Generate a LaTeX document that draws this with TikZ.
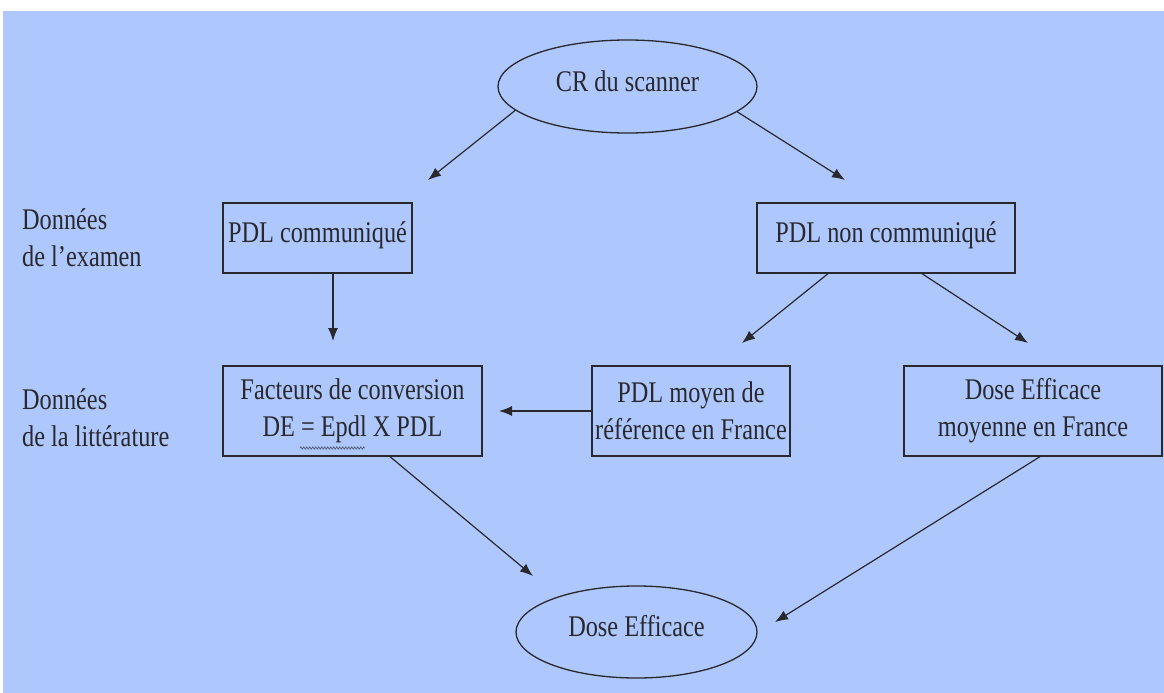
\documentclass[tikz,border=0pt]{standalone}
\usepackage{fontspec}
\setmainfont[FakeStretch=0.81]{Liberation Serif}
\usetikzlibrary{arrows.meta,shapes.geometric,decorations.pathmorphing}
\definecolor{bg}{RGB}{174,200,254}
\definecolor{ink}{RGB}{40,40,45}
\tikzset{
  txt/.style={font=\fontsize{30}{37}\selectfont, text=ink},
  oneline/.style={text height=21pt, text depth=12pt},
  boxnode/.style={draw=ink, line width=1.3pt, txt, align=center, inner sep=0pt},
  ellnode/.style={draw=ink, line width=1.3pt, ellipse, txt, oneline, inner sep=0pt},
  arr/.style={draw=ink, line width=1.2pt, -{Latex[length=13pt,width=10pt]}},
  side/.style={txt, align=left, anchor=north west, inner sep=0pt}
}
\begin{document}
\begin{tikzpicture}[x=1pt,y=-1pt]
\useasboundingbox (0,0) rectangle (1164,693);
\fill[bg] (3,11) rectangle (1164,693);

\node[ellnode, minimum width=259pt, minimum height=93pt] (cr) at (627.5,86.5) {CR du scanner};
\node[boxnode, oneline, minimum width=189pt, minimum height=70pt] (pc) at (317.5,238) {PDL communiqué};
\node[boxnode, oneline, minimum width=258pt, minimum height=70pt] (pnc) at (886,238) {PDL non communiqué};
\node[boxnode, minimum width=259pt, minimum height=90pt] (fc) at (352.5,411) {Facteurs de conversion\\DE = Epdl X PDL};
\node[boxnode, minimum width=198pt, minimum height=90pt] (pm) at (691,411) {PDL moyen de\\référence en France};
\node[boxnode, minimum width=258pt, minimum height=90pt] (dm) at (1033,411) {Dose Efficace\\moyenne en France};
\node[ellnode, minimum width=241pt, minimum height=92pt] (de) at (636.5,632) {Dose Efficace};

\node[side] (l1) at (22,208) {Données\\de l'examen};
\node[side] (l2) at (22,388) {Données\\de la littérature};

\coordinate (t1) at (428,180);
\coordinate (t2) at (845,180);
\coordinate (t3) at (333,341);
\coordinate (t4) at (742,343);
\coordinate (t5) at (1028,343);
\coordinate (t6) at (499,411);
\coordinate (t7) at (533,576);
\coordinate (t8) at (775,622);

\draw[arr] (cr.192.8) -- (t1);
\draw[arr] (cr.347.2) -- (t2);
\draw[arr] (pc.south -| t3) -- (t3);
\draw[arr] ([xshift=-58pt]pnc.south) -- (t4);
\draw[arr] ([xshift=36pt]pnc.south) -- (t5);
\draw[arr] (pm.west) -- (t6);
\draw[arr] ([xshift=37.5pt]fc.south) -- (t7);
\draw[arr] ([xshift=7pt]dm.south) -- (t8);

\coordinate (sq1) at (300,448);
\coordinate (sq2) at (365,448);
\draw[draw=ink!70!bg, line width=0.6pt, decorate, decoration={zigzag, amplitude=1.2pt, segment length=3pt}] (sq1) -- (sq2);
\end{tikzpicture}
\end{document}
